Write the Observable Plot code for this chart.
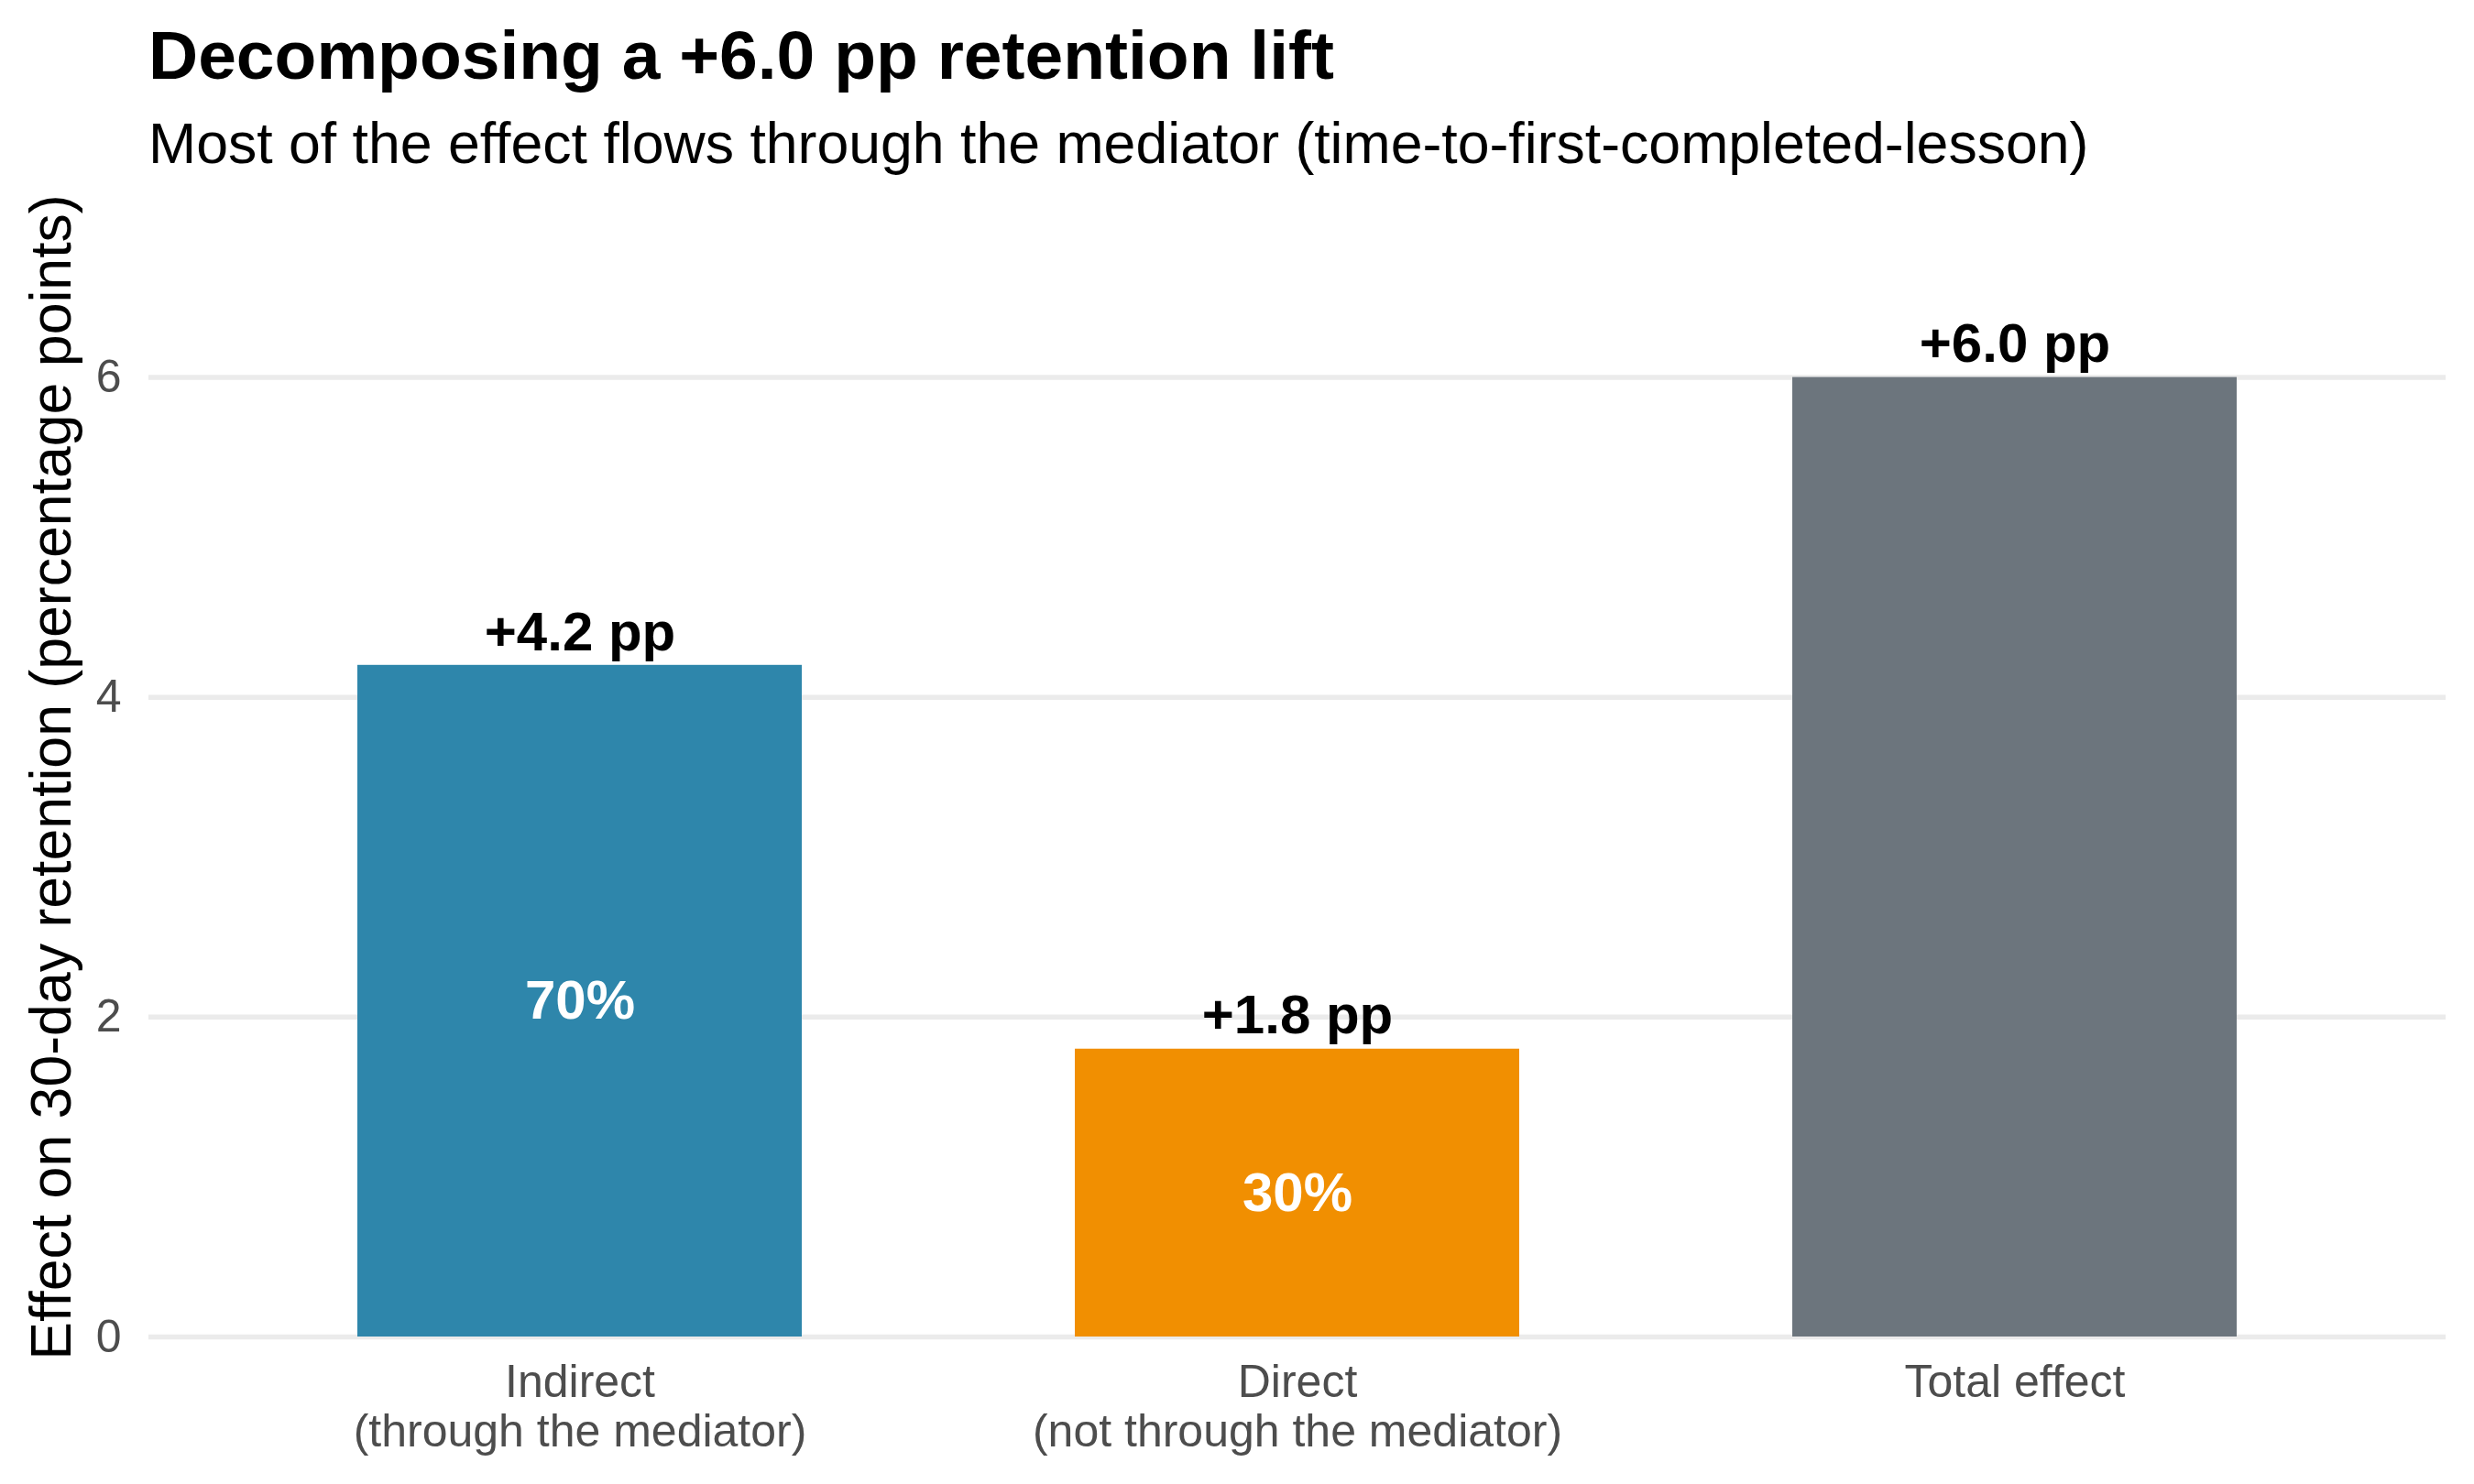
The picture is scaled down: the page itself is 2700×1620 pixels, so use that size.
<!DOCTYPE html>
<html>
<head>
<meta charset="utf-8">
<script src="https://cdn.jsdelivr.net/npm/d3@7"></script>
<script src="https://cdn.jsdelivr.net/npm/@observablehq/plot@0.6"></script>
<style>
  html, body { margin: 0; padding: 0; background: #ffffff; }
  body { width: 2700px; height: 1620px; overflow: hidden; font-family: "Liberation Sans", Arial, Helvetica, sans-serif; }
  #header { position: relative; width: 2700px; height: 198px; }
  #title { position: absolute; left: 162px; top: 22.5px; font-size: 75px; line-height: 75px; font-weight: bold; color: #000; white-space: nowrap; }
  #subtitle { position: absolute; left: 162px; top: 125px; font-size: 62.6px; line-height: 62.6px; color: #000; white-space: nowrap; }
  #chart svg { display: block; }
</style>
</head>
<body>
<div id="header">
  <div id="title">Decomposing a +6.0 pp retention lift</div>
  <div id="subtitle">Most of the effect flows through the mediator (time-to-first-completed-lesson)</div>
</div>
<div id="chart"></div>
<script>
// ---- data ----
const effects = ["Indirect", "Direct", "Total effect"];
const effectNotes = ["(through the mediator)", "(not through the mediator)", ""];
const values = [4.2, 1.8, 6.0];
const valueLabels = ["+4.2 pp", "+1.8 pp", "+6.0 pp"];
const shareLabels = ["70%", "30%", ""];
const yTicks = [0, 2, 4, 6];
const yLabel = "Effect on 30-day retention (percentage points)";

// ---- styling ----
const barColors = ["#2E86AB", "#F18F01", "#6C757D"];
const font = "'Liberation Sans', Arial, Helvetica, sans-serif";

const data = effects.map((e, i) => ({
  effect: e,
  note: effectNotes[i],
  value: values[i],
  valueLabel: valueLabels[i],
  share: shareLabels[i]
}));
const noteOf = new Map(data.map(d => [d.effect, d.note]));

const chart = Plot.plot({
  width: 2700,
  height: 1422,
  marginLeft: 162,
  marginRight: 31,
  marginTop: 39,
  marginBottom: 161,
  style: { fontFamily: font, background: "white", color: "black", overflow: "visible" },
  x: { type: "band", domain: effects, paddingInner: 0.38, paddingOuter: 0.29, label: null },
  y: { domain: [0, 7], label: null },
  color: { domain: effects, range: barColors },
  marks: [
    Plot.gridY(yTicks, { stroke: "#ebebeb", strokeOpacity: 1, strokeWidth: 5.5 }),
    Plot.barY(data, { x: "effect", y: "value", fill: "effect" }),
    Plot.text(data, {
      x: "effect", y: "value", text: "valueLabel",
      fontSize: 60, fontWeight: "bold", fill: "black", dy: -36
    }),
    Plot.text(data.filter(d => d.share), {
      x: "effect", y: d => d.value / 2, text: "share",
      fontSize: 60, fontWeight: "bold", fill: "white"
    }),
    Plot.axisX({
      tickSize: 0, tickPadding: 27, fontSize: 50, lineHeight: 1.08,
      fill: "#4d4d4d", label: null,
      tickFormat: e => noteOf.get(e) ? e + "\n" + noteOf.get(e) : e
    }),
    Plot.axisY({
      ticks: yTicks, tickSize: 0, tickPadding: 30, fontSize: 50,
      fill: "#4d4d4d", label: null, tickFormat: d3.format("d")
    }),
    Plot.axisY({
      ticks: [], tickSize: 0, fontSize: 62.6, fill: "black",
      label: yLabel, labelAnchor: "center", labelArrow: "none", labelOffset: 130
    })
  ]
});
document.getElementById("chart").appendChild(chart);
</script>
</body>
</html>
